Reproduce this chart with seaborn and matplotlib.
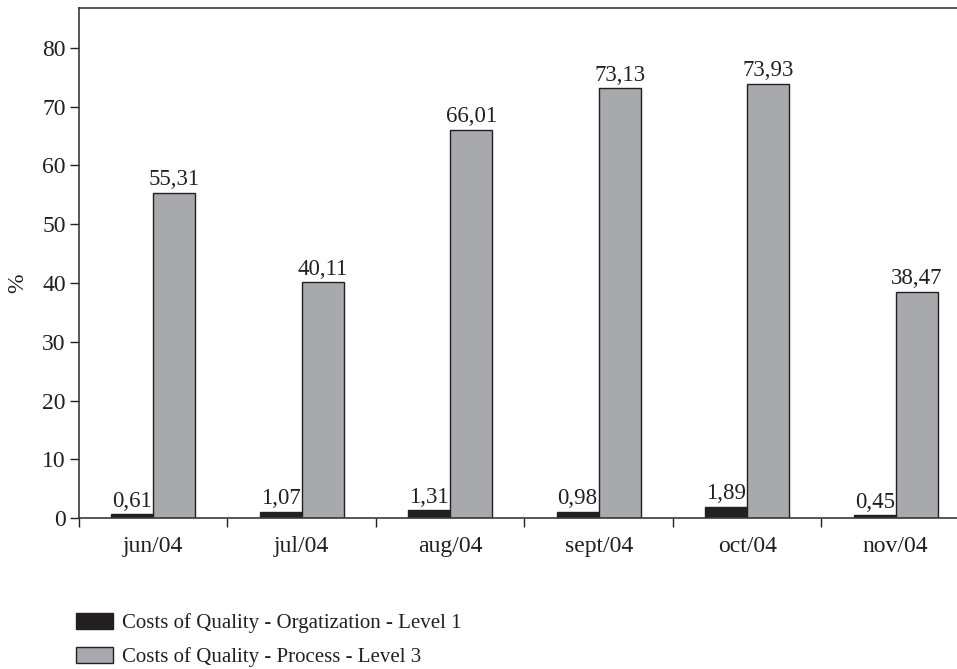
import matplotlib
matplotlib.use("Agg")
import matplotlib.pyplot as plt
import seaborn as sns
import pandas as pd
import numpy as np
from matplotlib.ticker import FixedLocator

months = ["jun/04", "jul/04", "aug/04", "sept/04", "oct/04", "nov/04"]
series_names = ["Costs of Quality - Orgatization - Level 1",
                "Costs of Quality - Process - Level 3"]
level1 = [0.61, 1.07, 1.31, 0.98, 1.89, 0.45]
level3 = [55.31, 40.11, 66.01, 73.13, 73.93, 38.47]

df = pd.DataFrame({
    "month": months * 2,
    "series": [series_names[0]] * len(months) + [series_names[1]] * len(months),
    "value": level1 + level3,
})

sns.set_theme(style="white")
plt.rcParams["font.family"] = ["Liberation Serif", "DejaVu Serif"]

fig = plt.figure(figsize=(9.57, 6.69), dpi=100)
ax = fig.add_axes([0.0825, 0.2257, 0.931, 0.7623])

palette = {series_names[0]: "#231f20", series_names[1]: "#a7a9ac"}
sns.barplot(data=df, x="month", y="value", hue="series", order=months,
            hue_order=series_names, palette=palette, width=0.566, gap=0,
            edgecolor="#231f20", linewidth=1.0, saturation=1, ax=ax)

for cont in ax.containers:
    labels = [f"{v:.2f}".replace(".", ",") for v in cont.datavalues]
    ax.bar_label(cont, labels=labels, padding=2, fontsize=16.5, color="#231f20")

ax.set_xlim(-0.5, len(months) - 0.5)
ax.set_ylim(0, 86.8)
ax.set_yticks(np.arange(0, 81, 10))
ax.tick_params(axis="y", labelsize=17, length=6.5, width=1, color="#231f20",
               left=True, pad=3, labelcolor="#231f20")
ax.tick_params(axis="x", which="major", labelsize=17, length=0, pad=13,
               labelcolor="#231f20")
ax.xaxis.set_minor_locator(FixedLocator(np.arange(-0.5, len(months) - 0.4, 1)))
ax.tick_params(axis="x", which="minor", length=6.5, width=1, color="#231f20",
               bottom=True)
ax.set_xlabel("")
ax.set_ylabel("%", fontsize=17, color="#231f20")
ax.yaxis.set_label_coords(-0.057, 0.46)

for s in ax.spines.values():
    s.set_color("#3a3a3a")
    s.set_linewidth(1.2)

leg = ax.legend(loc="upper left", bbox_to_anchor=((78 / 957 - 0.0825) / 0.931 - 0.002, -0.186),
                bbox_transform=ax.transAxes, frameon=False, fontsize=15,
                handlelength=1.78, handleheight=0.82, handletextpad=0.4,
                labelspacing=0.65, borderaxespad=0, borderpad=0)
for t in leg.get_texts():
    t.set_color("#231f20")

fig.savefig("out.png", dpi=100)
